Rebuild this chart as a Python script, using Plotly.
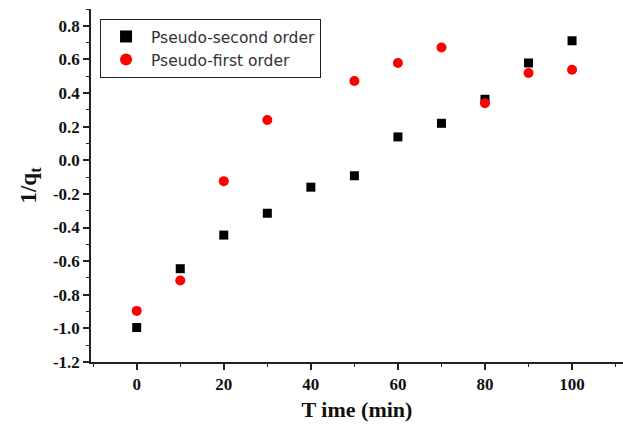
import plotly.graph_objects as go

time_min = [0, 10, 20, 30, 40, 50, 60, 70, 80, 90, 100]
pseudo_second = [-0.995, -0.645, -0.445, -0.315, -0.16, -0.092, 0.139, 0.22, 0.363, 0.579, 0.711]
time_first = [0, 10, 20, 30, 50, 60, 70, 80, 90, 100]
pseudo_first = [-0.896, -0.715, -0.124, 0.24, 0.472, 0.579, 0.671, 0.339, 0.519, 0.539]

x_ticks = [0, 20, 40, 60, 80, 100]
y_ticks = [-1.2, -1.0, -0.8, -0.6, -0.4, -0.2, 0.0, 0.2, 0.4, 0.6, 0.8]

fig = go.Figure()
fig.add_trace(go.Scatter(
    x=time_min, y=pseudo_second, mode="markers", name="Pseudo-second order",
    marker=dict(symbol="square", size=9, color="black"),
))
fig.add_trace(go.Scatter(
    x=time_first, y=pseudo_first, mode="markers", name="Pseudo-first order",
    marker=dict(symbol="circle", size=10, color="#ff0000"),
))

tickfont = dict(family="Liberation Serif", size=17, color="#111", weight="bold")
fig.update_layout(
    width=623, height=425,
    margin=dict(l=91, r=0, t=9, b=63),
    paper_bgcolor="white", plot_bgcolor="white",
    showlegend=True,
    legend=dict(
        x=0.017, y=0.972, xanchor="left", yanchor="top",
        bordercolor="#222", borderwidth=1, bgcolor="white",
        font=dict(family="DejaVu Sans", size=15.5, color="#333"),
        itemsizing="constant", itemwidth=40, tracegroupgap=0,
    ),
    xaxis=dict(
        range=[-10.5, 111.7], tickvals=x_ticks, ticktext=["<b>%d</b>" % v for v in x_ticks],
        ticks="outside", ticklen=6, tickwidth=1.5, tickcolor="#222",
        showline=True, linecolor="#222", linewidth=1.5, showgrid=False, zeroline=False,
        tickfont=tickfont,
        minor=dict(dtick=10, tick0=0, ticks="outside", ticklen=3, tickwidth=1.2, tickcolor="#222"),
        title=dict(text="T ime (min)", font=dict(family="Liberation Serif", size=22, color="#111", weight="bold"), standoff=8),
    ),
    yaxis=dict(
        range=[-1.2, 0.9], tickvals=y_ticks, ticktext=["<b>%.1f</b>" % v for v in y_ticks],
        ticks="outside", ticklen=6, tickwidth=1.5, tickcolor="#222",
        showline=True, linecolor="#222", linewidth=1.5, showgrid=False, zeroline=False,
        tickfont=tickfont,
        minor=dict(dtick=0.1, tick0=0, ticks="outside", ticklen=3, tickwidth=1.2, tickcolor="#222"),
        title=dict(text="1/q<sub>t</sub>", font=dict(family="Liberation Serif", size=23, color="#111", weight="bold"), standoff=10),
    ),
)
fig.write_html("out.html")
